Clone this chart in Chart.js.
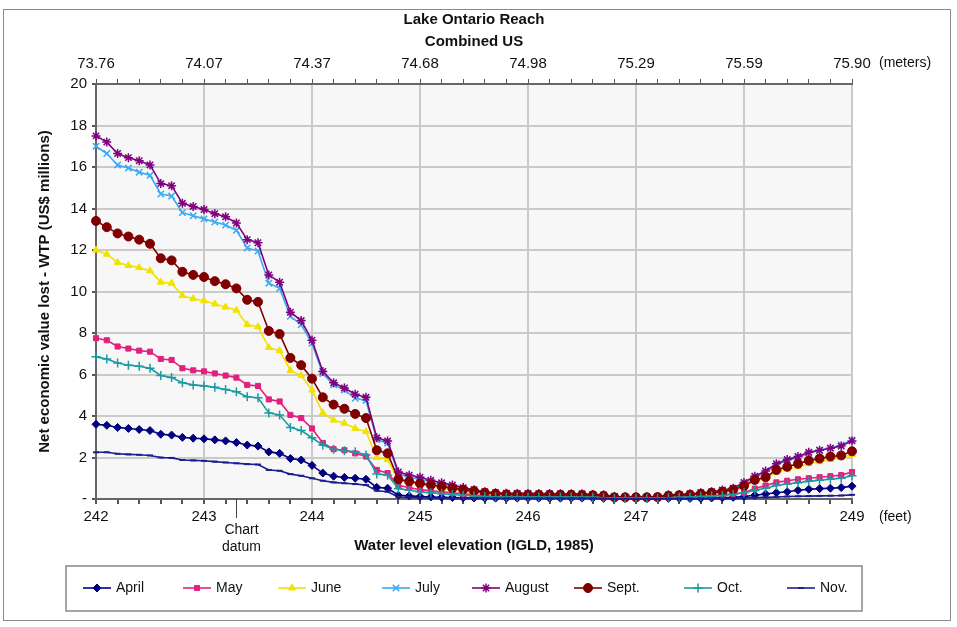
<!DOCTYPE html>
<html>
<head>
<meta charset="utf-8">
<title>Lake Ontario Reach - Combined US</title>
<script src="https://cdn.jsdelivr.net/npm/chart.js@4.4.0/dist/chart.umd.min.js"></script>
<style>
html, body { margin: 0; padding: 0; background: #fff; }
#wrap { width: 957px; height: 627px; }
</style>
</head>
<body>
<div id="wrap"><canvas id="chart" width="957" height="627"></canvas></div>
<script>
// water level (feet, IGLD 1985)
var levels = [
	242.0, 242.1, 242.2, 242.3, 242.4, 242.5, 242.6, 242.7, 242.8, 242.9,
	243.0, 243.1, 243.2, 243.3, 243.4, 243.5, 243.6, 243.7, 243.8, 243.9,
	244.0, 244.1, 244.2, 244.3, 244.4, 244.5, 244.6, 244.7, 244.8, 244.9,
	245.0, 245.1, 245.2, 245.3, 245.4, 245.5, 245.6, 245.7, 245.8, 245.9,
	246.0, 246.1, 246.2, 246.3, 246.4, 246.5, 246.6, 246.7, 246.8, 246.9,
	247.0, 247.1, 247.2, 247.3, 247.4, 247.5, 247.6, 247.7, 247.8, 247.9,
	248.0, 248.1, 248.2, 248.3, 248.4, 248.5, 248.6, 248.7, 248.8, 248.9, 249.0
];
var feetLabels = ["242", "243", "244", "245", "246", "247", "248", "249"];
var meterLabels = ["73.76", "74.07", "74.37", "74.68", "74.98", "75.29", "75.59", "75.90"];
var yTickLabels = ["-", "2", "4", "6", "8", "10", "12", "14", "16", "18", "20"];
var chartDatum = 243.3;

var months = ["April", "May", "June", "July", "August", "Sept.", "Oct.", "Nov."];

// US$ millions lost
var april = [
	3.6, 3.55, 3.45, 3.4, 3.35, 3.3, 3.12, 3.08, 2.97, 2.93,
	2.9, 2.85, 2.8, 2.72, 2.6, 2.55, 2.27, 2.2, 1.95, 1.88,
	1.62, 1.25, 1.1, 1.04, 1.0, 0.95, 0.56, 0.52, 0.18, 0.15,
	0.12, 0.1, 0.08, 0.07, 0.06, 0.05, 0.04, 0.04, 0.04, 0.04,
	0.04, 0.04, 0.04, 0.04, 0.04, 0.04, 0.04, 0.03, 0.02, 0.02,
	0.02, 0.02, 0.02, 0.03, 0.03, 0.03, 0.03, 0.05, 0.06, 0.08,
	0.12, 0.18, 0.24, 0.3, 0.35, 0.42, 0.47, 0.5, 0.52, 0.55, 0.62
];
var may = [
	7.75, 7.65, 7.35, 7.25, 7.15, 7.1, 6.75, 6.7, 6.3, 6.2,
	6.15, 6.05, 5.95, 5.85, 5.5, 5.45, 4.8, 4.7, 4.05, 3.9,
	3.4, 2.7, 2.4, 2.35, 2.2, 2.05, 1.4, 1.25, 0.65, 0.55,
	0.45, 0.4, 0.35, 0.3, 0.25, 0.2, 0.15, 0.13, 0.12, 0.12,
	0.12, 0.12, 0.12, 0.12, 0.11, 0.11, 0.1, 0.08, 0.05, 0.05,
	0.05, 0.05, 0.05, 0.08, 0.1, 0.12, 0.14, 0.16, 0.2, 0.25,
	0.3, 0.5, 0.65, 0.8, 0.88, 0.95, 1.0, 1.05, 1.1, 1.15, 1.3
];
var june = [
	12.0, 11.8, 11.4, 11.25, 11.15, 11.0, 10.45, 10.4, 9.8, 9.65,
	9.55, 9.4, 9.25, 9.1, 8.4, 8.3, 7.3, 7.15, 6.2, 5.95,
	5.25, 4.15, 3.8, 3.65, 3.4, 3.25, 2.0, 1.9, 0.9, 0.8,
	0.7, 0.62, 0.52, 0.45, 0.38, 0.3, 0.25, 0.2, 0.18, 0.18,
	0.18, 0.18, 0.18, 0.17, 0.17, 0.17, 0.16, 0.12, 0.06, 0.06,
	0.06, 0.06, 0.07, 0.12, 0.15, 0.18, 0.2, 0.25, 0.3, 0.4,
	0.55, 0.85, 1.0, 1.3, 1.45, 1.55, 1.7, 1.8, 1.9, 2.0, 2.15
];
var july = [
	17.0, 16.65, 16.1, 15.95, 15.75, 15.6, 14.7, 14.6, 13.8, 13.65,
	13.5, 13.35, 13.2, 12.95, 12.1, 11.95, 10.4, 10.15, 8.8, 8.4,
	7.5, 6.05, 5.5, 5.25, 4.85, 4.75, 2.85, 2.7, 1.2, 1.05,
	0.95, 0.82, 0.7, 0.6, 0.5, 0.4, 0.32, 0.27, 0.25, 0.24,
	0.24, 0.23, 0.23, 0.22, 0.22, 0.22, 0.2, 0.18, 0.1, 0.09,
	0.09, 0.09, 0.1, 0.18, 0.2, 0.22, 0.27, 0.32, 0.4, 0.5,
	0.75, 1.05, 1.3, 1.65, 1.85, 2.0, 2.2, 2.35, 2.45, 2.6, 2.85
];
var august = [
	17.5, 17.2, 16.65, 16.45, 16.3, 16.1, 15.2, 15.1, 14.25, 14.1,
	13.95, 13.75, 13.6, 13.3, 12.5, 12.35, 10.8, 10.45, 9.0, 8.6,
	7.65, 6.15, 5.6, 5.35, 5.05, 4.9, 2.95, 2.8, 1.3, 1.15,
	1.05, 0.9, 0.78, 0.68, 0.55, 0.45, 0.35, 0.3, 0.28, 0.27,
	0.27, 0.26, 0.26, 0.25, 0.25, 0.25, 0.22, 0.2, 0.12, 0.1,
	0.1, 0.1, 0.12, 0.2, 0.22, 0.25, 0.3, 0.35, 0.43, 0.52,
	0.8, 1.1, 1.35, 1.7, 1.9, 2.05, 2.25, 2.35, 2.45, 2.55, 2.8
];
var sept = [
	13.4, 13.1, 12.8, 12.65, 12.5, 12.3, 11.6, 11.5, 10.95, 10.8,
	10.7, 10.5, 10.35, 10.15, 9.6, 9.5, 8.1, 7.95, 6.8, 6.45,
	5.8, 4.9, 4.55, 4.35, 4.1, 3.9, 2.35, 2.2, 0.95, 0.85,
	0.75, 0.68, 0.6, 0.52, 0.45, 0.38, 0.3, 0.25, 0.22, 0.21,
	0.2, 0.2, 0.2, 0.2, 0.2, 0.19, 0.18, 0.15, 0.08, 0.08,
	0.08, 0.08, 0.09, 0.15, 0.18, 0.2, 0.25, 0.3, 0.35, 0.45,
	0.63, 0.92, 1.05, 1.4, 1.55, 1.7, 1.85, 1.95, 2.05, 2.1, 2.3
];
var oct = [
	6.85, 6.75, 6.55, 6.45, 6.4, 6.3, 5.95, 5.85, 5.6, 5.5,
	5.45, 5.38, 5.28, 5.17, 4.93, 4.88, 4.15, 4.05, 3.45, 3.3,
	2.95, 2.6, 2.4, 2.33, 2.28, 2.12, 1.2, 1.15, 0.5, 0.42,
	0.35, 0.3, 0.26, 0.22, 0.18, 0.15, 0.12, 0.1, 0.1, 0.1,
	0.1, 0.1, 0.1, 0.1, 0.1, 0.09, 0.08, 0.06, 0.04, 0.04,
	0.04, 0.04, 0.04, 0.06, 0.08, 0.1, 0.12, 0.14, 0.17, 0.22,
	0.3, 0.42, 0.52, 0.65, 0.72, 0.78, 0.85, 0.9, 0.95, 1.0, 1.12
];
var nov = [
	2.25, 2.25, 2.18, 2.15, 2.13, 2.1, 2.0, 1.98, 1.88, 1.86,
	1.84, 1.8, 1.76, 1.72, 1.68, 1.66, 1.4, 1.36, 1.2, 1.12,
	1.0, 0.88, 0.8, 0.76, 0.72, 0.67, 0.4, 0.35, 0.1, 0.08,
	0.06, 0.05, 0.04, 0.03, 0.03, 0.03, 0.03, 0.03, 0.03, 0.03,
	0.03, 0.03, 0.03, 0.03, 0.03, 0.03, 0.03, 0.02, 0.01, 0.01,
	0.01, 0.01, 0.01, 0.02, 0.02, 0.02, 0.02, 0.02, 0.02, 0.03,
	0.05, 0.07, 0.08, 0.1, 0.12, 0.13, 0.14, 0.15, 0.16, 0.17, 0.2
];

var series = [april, may, june, july, august, sept, oct, nov];
var colors = ["#000080", "#e3207e", "#f2e200", "#38a9f2", "#800080", "#800000", "#1c9aa2", "#1d1d8f"];
var styles = [
	{ pointStyle: "rectRot", radius: 4, borderWidth: 1 },
	{ pointStyle: "rect", radius: 3.6, borderWidth: 1 },
	{ pointStyle: "triangle", radius: 4, borderWidth: 1 },
	{ pointStyle: "crossRot", radius: 4.5, borderWidth: 1.5 },
	{ pointStyle: "star", radius: 4.5, borderWidth: 1.5 },
	{ pointStyle: "circle", radius: 4.5, borderWidth: 1 },
	{ pointStyle: "cross", radius: 4.5, borderWidth: 1.5 },
	{ pointStyle: "line", radius: 3, borderWidth: 2 }
];
// legend item centres (marker x)
var legendX = [97, 197, 292, 396, 486, 588, 698, 801];

var FONT = '"Liberation Sans", Arial, sans-serif';

function isWhole(v){
	return Math.abs(v - Math.round(v)) < 1e-6;
}

function pairs(values){
	return levels.map(function(x, i){ return { x: x, y: values[i] }; });
}

var datasets = series.map(function(values, i){
	return {
		label: months[i],
		data: pairs(values),
		borderColor: colors[i],
		backgroundColor: colors[i],
		borderWidth: 1.6,
		pointStyle: styles[i].pointStyle,
		pointRadius: styles[i].radius,
		pointBorderWidth: styles[i].borderWidth,
		pointBorderColor: colors[i],
		pointBackgroundColor: colors[i],
		tension: 0,
		clip: 6,
		order: series.length - i
	};
});

var extras = {
	id: "extras",
	beforeDraw: function(chart){
		var ctx = chart.ctx, a = chart.chartArea;
		ctx.save();
		ctx.fillStyle = "#ffffff";
		ctx.fillRect(0, 0, chart.width, chart.height);
		ctx.fillStyle = "#f7f7f7";
		ctx.fillRect(a.left, a.top, a.right - a.left, a.bottom - a.top);
		ctx.restore();
	},
	afterDraw: function(chart){
		var ctx = chart.ctx, a = chart.chartArea;
		var xs = chart.scales.x;
		var mid = (a.left + a.right) / 2;
		ctx.save();
		ctx.fillStyle = "#111";
		ctx.textBaseline = "middle";

		// titles
		ctx.textAlign = "center";
		ctx.font = "bold 15px " + FONT;
		ctx.fillText("Lake Ontario Reach", mid, 20);
		ctx.fillText("Combined US", mid, 42);
		ctx.fillText("Water level elevation (IGLD, 1985)", mid, 546);

		ctx.save();
		ctx.translate(45, (a.top + a.bottom) / 2);
		ctx.rotate(-Math.PI / 2);
		ctx.fillText("Net economic value lost - WTP (US$ millions)", 0, 0);
		ctx.restore();

		// units
		ctx.font = "14px " + FONT;
		ctx.textAlign = "left";
		ctx.fillText("(meters)", a.right + 27, 63);
		ctx.fillText("(feet)", a.right + 27, 517);

		// chart datum marker
		var dx = Math.round(xs.getPixelForValue(chartDatum)) + 0.5;
		ctx.strokeStyle = "#444";
		ctx.lineWidth = 1;
		ctx.beginPath();
		ctx.moveTo(dx, a.bottom);
		ctx.lineTo(dx, a.bottom + 19);
		ctx.stroke();
		ctx.textAlign = "center";
		ctx.fillText("Chart", dx + 5, 530);
		ctx.fillText("datum", dx + 5, 547);

		// legend
		ctx.strokeStyle = "#888";
		ctx.lineWidth = 1.5;
		ctx.strokeRect(66, 566, 796, 45);
		var ly = 588;
		ctx.textAlign = "left";
		for (var i = 0; i < months.length; i++) {
			var cx = legendX[i];
			ctx.strokeStyle = colors[i];
			ctx.fillStyle = colors[i];
			ctx.lineWidth = 1.6;
			ctx.beginPath();
			ctx.moveTo(cx - 14, ly);
			ctx.lineTo(cx + 14, ly);
			ctx.stroke();
			ctx.lineWidth = styles[i].borderWidth;
			Chart.helpers.drawPoint(ctx, {
				pointStyle: styles[i].pointStyle,
				radius: styles[i].radius,
				rotation: 0,
				borderWidth: styles[i].borderWidth
			}, cx, ly);
			ctx.fillStyle = "#111";
			ctx.fillText(months[i], cx + 19, ly);
		}

		// outer frame
		ctx.strokeStyle = "#8a8a8a";
		ctx.lineWidth = 1;
		ctx.strokeRect(3.5, 9.5, 947, 611);
		ctx.restore();
	}
};

var gridColor = function(c){
	return isWhole(c.tick.value) ? "#cacaca" : "rgba(0,0,0,0)";
};

new Chart(document.getElementById("chart"), {
	type: "line",
	data: { datasets: datasets },
	options: {
		responsive: false,
		animation: false,
		devicePixelRatio: 1,
		layout: { padding: { left: 0, right: 105, top: 0, bottom: 0 } },
		plugins: {
			legend: { display: false },
			tooltip: { enabled: false }
		},
		scales: {
			x: {
				type: "linear",
				position: "bottom",
				min: 242,
				max: 249,
				ticks: {
					stepSize: 0.2,
					autoSkip: false,
					maxRotation: 0,
					padding: 4,
					color: "#111",
					font: { size: 15, family: FONT },
					callback: function(v){
						return isWhole(v) ? feetLabels[Math.round(v) - 242] : "";
					}
				},
				grid: { color: gridColor, lineWidth: 2, tickColor: "#555", tickLength: 5 },
				border: { color: "#666", width: 2 },
				afterFit: function(s){ s.height = 128; }
			},
			x2: {
				type: "linear",
				position: "top",
				min: 242,
				max: 249,
				ticks: {
					stepSize: 0.2,
					autoSkip: false,
					maxRotation: 0,
					padding: 6,
					color: "#111",
					font: { size: 15, family: FONT },
					callback: function(v){
						return isWhole(v) ? meterLabels[Math.round(v) - 242] : "";
					}
				},
				grid: { drawOnChartArea: false, tickColor: "#555", tickLength: 5 },
				border: { color: "#666", width: 2 },
				afterFit: function(s){ s.height = 84; }
			},
			y: {
				type: "linear",
				min: 0,
				max: 20,
				ticks: {
					stepSize: 2,
					padding: 5,
					color: "#111",
					font: { size: 15, family: FONT },
					callback: function(v){ return yTickLabels[Math.round(v / 2)]; }
				},
				grid: { color: "#cacaca", lineWidth: 2, tickColor: "#555", tickLength: 4 },
				border: { color: "#666", width: 2 },
				afterFit: function(s){ s.width = 96; }
			}
		}
	},
	plugins: [extras]
});
</script>
</body>
</html>
